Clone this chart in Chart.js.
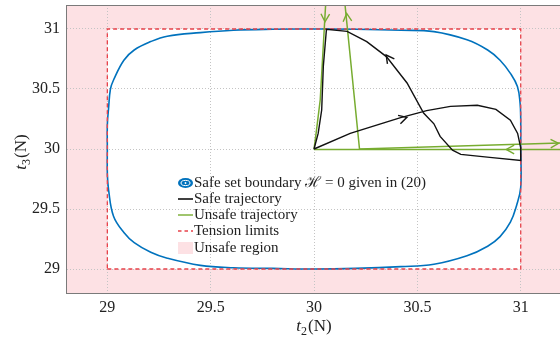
<!DOCTYPE html>
<html>
<head>
<meta charset="utf-8">
<script src="https://cdn.jsdelivr.net/npm/chart.js@4/dist/chart.umd.min.js"></script>
<style>
html,body{margin:0;padding:0;background:#fff;}
canvas{display:block;}
</style>
</head>
<body>
<canvas id="c" width="560" height="341"></canvas>
<script>
// ---- data ----
const tickValues = [29, 29.5, 30, 30.5, 31];
const tickLabels = ['29', '29.5', '30', '30.5', '31'];
const axisRange = [28.8, 31.19, 28.8, 31.2]; // xmin, xmax, ymin, ymax
const limits = [29, 31];

const boundaryX = [30.0, 30.2, 30.42, 30.58, 30.74, 30.84, 30.90, 30.95, 30.984, 30.997, 31.0, 31.0, 31.0, 30.98, 30.95, 30.90, 30.84, 30.74, 30.58, 30.42, 30.2, 30.0, 29.8, 29.61, 29.45, 29.29, 29.21, 29.13, 29.08, 29.03, 29.006, 29.0, 29.0, 29.0, 29.006, 29.015, 29.03, 29.08, 29.13, 29.21, 29.29, 29.45, 29.61, 29.8, 30.0];
const boundaryY = [31.0, 30.998, 30.99, 30.978, 30.91, 30.825, 30.74, 30.63, 30.52, 30.38, 30.24, 30.0, 29.68, 29.53, 29.39, 29.27, 29.19, 29.11, 29.04, 29.02, 29.005, 29.0, 29.005, 29.01, 29.03, 29.09, 29.14, 29.22, 29.305, 29.44, 29.66, 29.8, 30.0, 30.2, 30.34, 30.5, 30.575, 30.74, 30.825, 30.895, 30.94, 30.97, 30.99, 30.998, 31.0];

const safeX = [30.0, 30.175, 30.415, 30.545, 30.66, 30.79, 30.88, 30.95, 30.985, 31.0, 31.0, 30.85, 30.71, 30.67, 30.61, 30.58, 30.53, 30.45, 30.35, 30.255, 30.16, 30.06, 30.045, 30.037, 30.02, 30.0];
const safeY = [30.0, 30.13, 30.26, 30.32, 30.355, 30.365, 30.33, 30.24, 30.13, 30.01, 29.905, 29.93, 29.955, 29.99, 30.105, 30.21, 30.30, 30.55, 30.77, 30.895, 30.98, 30.997, 30.69, 30.325, 30.13, 30.0];

const unsafeAX = [30.0, 30.01, 30.03, 30.056];
const unsafeAY = [30.0, 30.13, 30.41, 31.2];
const unsafeBX = [30.0, 31.2];
const unsafeBY = [29.996, 29.996];
const unsafeCX = [30.15, 30.22, 31.2];
const unsafeCY = [31.2, 30.0, 30.05];

const limitX = [29, 31, 31, 29, 29];
const limitY = [29, 29, 31, 31, 29];

const arrowTipX  = [30.053, 30.158, 31.183, 30.93, 30.449, 30.349];
const arrowTipY  = [31.06, 31.13, 30.047, 29.996, 30.264, 30.783];
const arrowFromX = [30.056, 30.22, 30.22, 31.2, 30.175, 30.45];
const arrowFromY = [31.2, 30.0, 30.0, 29.996, 30.13, 30.55];
const arrowSeries = ['unsafe', 'unsafe', 'unsafe', 'unsafe', 'safe', 'safe'];

const legendLabels = ['Safe set boundary \u210B = 0 given in (20)', 'Safe trajectory', 'Unsafe trajectory', 'Tension limits', 'Unsafe region'];

// ---- styles ----
const COL = {
  blue: '#0072bd', safe: '#111111', unsafe: '#77ac30', limit: '#e8424a',
  pink: 'rgb(253,225,228)', grid: '#c4c4c4', axis: '#7a7a7a', text: '#222222'
};
const serif = '"Liberation Serif", "DejaVu Serif", serif';

const pts = (xs, ys) => xs.map((x, i) => ({x: x, y: ys[i]}));

const regionPlugin = {
  id: 'region',
  beforeDraw(chart) {
    const {ctx, chartArea: a, scales: {x, y}} = chart;
    const l = x.getPixelForValue(limits[0]), r = x.getPixelForValue(limits[1]);
    const t = y.getPixelForValue(limits[1]), b = y.getPixelForValue(limits[0]);
    ctx.save();
    ctx.fillStyle = COL.pink;
    ctx.beginPath();
    ctx.rect(a.left, a.top, a.right - a.left, a.bottom - a.top);
    ctx.rect(l, t, r - l, b - t);
    ctx.fill('evenodd');
    ctx.restore();
  },
  afterDatasetsDraw(chart) {
    const {ctx, chartArea: a, scales: {x, y}} = chart;
    ctx.save();
    ctx.beginPath();
    ctx.rect(a.left, a.top, a.right - a.left, a.bottom - a.top);
    ctx.clip();
    for (let i = 0; i < arrowTipX.length; i++) {
      const tx = x.getPixelForValue(arrowTipX[i]), ty = y.getPixelForValue(arrowTipY[i]);
      const fx = x.getPixelForValue(arrowFromX[i]), fy = y.getPixelForValue(arrowFromY[i]);
      const ang = Math.atan2(ty - fy, tx - fx);
      const len = 9, spread = 0.5;
      ctx.strokeStyle = arrowSeries[i] === 'safe' ? COL.safe : COL.unsafe;
      ctx.lineWidth = 1.4;
      ctx.beginPath();
      ctx.moveTo(tx - len * Math.cos(ang - spread), ty - len * Math.sin(ang - spread));
      ctx.lineTo(tx, ty);
      ctx.lineTo(tx - len * Math.cos(ang + spread), ty - len * Math.sin(ang + spread));
      ctx.stroke();
    }
    ctx.restore();
  },
  afterDraw(chart) {
    const {ctx, chartArea: a} = chart;
    ctx.save();
    // top frame line
    ctx.strokeStyle = COL.axis;
    ctx.lineWidth = 1;
    ctx.beginPath();
    ctx.moveTo(a.left, a.top + 0.5);
    ctx.lineTo(a.right, a.top + 0.5);
    ctx.stroke();

    // axis titles
    ctx.fillStyle = COL.text;
    ctx.textBaseline = 'alphabetic';
    const drawTitle = (sub, cx, cy, rot) => {
      ctx.save();
      ctx.translate(cx, cy);
      ctx.rotate(rot);
      const f1 = 'italic 17px ' + serif, f2 = '12px ' + serif, f3 = '17px ' + serif;
      ctx.font = f1; const w1 = ctx.measureText('t').width;
      ctx.font = f2; const w2 = ctx.measureText(sub).width;
      ctx.font = f3; const w3 = ctx.measureText('(N)').width;
      let x0 = -(w1 + w2 + 1 + w3) / 2;
      ctx.font = f1; ctx.fillText('t', x0, 0); x0 += w1;
      ctx.font = f2; ctx.fillText(sub, x0, 4); x0 += w2 + 1;
      ctx.font = f3; ctx.fillText('(N)', x0, 0);
      ctx.restore();
    };
    drawTitle('2', 314, 331, 0);
    drawTitle('3', 26, 152, -Math.PI / 2);

    // legend
    const lx0 = 178, lx1 = 193, tx = 194;
    const rows = [183, 199, 215, 231, 248];
    ctx.font = '15px ' + serif;
    ctx.textBaseline = 'middle';
    legendLabels.forEach((lab, i) => {
      const yy = rows[i];
      if (i === 0) {
        ctx.fillStyle = COL.blue;
        ctx.beginPath(); ctx.ellipse(185.5, yy, 7.5, 5, 0, 0, Math.PI * 2); ctx.fill();
        ctx.strokeStyle = '#ffffff'; ctx.lineWidth = 1;
        ctx.beginPath(); ctx.ellipse(185.5, yy, 4.5, 2.6, 0, 0, Math.PI * 2); ctx.stroke();
        ctx.fillStyle = '#ffffff';
        ctx.beginPath(); ctx.arc(185.5, yy, 0.9, 0, Math.PI * 2); ctx.fill();
      } else if (i === 1 || i === 2 || i === 3) {
        ctx.strokeStyle = i === 1 ? COL.safe : (i === 2 ? COL.unsafe : COL.limit);
        ctx.lineWidth = i === 1 ? 1.6 : 1.4;
        ctx.setLineDash(i === 3 ? [3.5, 3] : []);
        ctx.beginPath(); ctx.moveTo(lx0, yy); ctx.lineTo(lx1, yy); ctx.stroke();
        ctx.setLineDash([]);
      } else {
        ctx.fillStyle = COL.pink;
        ctx.fillRect(lx0, yy - 6, lx1 - lx0, 12);
      }
      ctx.fillStyle = COL.text;
      ctx.fillText(lab, tx, yy + 0.5);
    });
    ctx.restore();
  }
};

const lineDs = (label, data, color, width, extra) => Object.assign({
  label: label, data: data, showLine: true, borderColor: color, backgroundColor: color,
  borderWidth: width, pointRadius: 0, tension: 0, fill: false
}, extra || {});

new Chart(document.getElementById('c'), {
  type: 'scatter',
  data: {
    datasets: [
      lineDs('Safe trajectory', pts(safeX, safeY), COL.safe, 1.4),
      lineDs('Unsafe A', pts(unsafeAX, unsafeAY), COL.unsafe, 1.5),
      lineDs('Unsafe B', pts(unsafeBX, unsafeBY), COL.unsafe, 1.5),
      lineDs('Unsafe C', pts(unsafeCX, unsafeCY), COL.unsafe, 1.5),
      lineDs('Tension limits', pts(limitX, limitY), COL.limit, 1.3, {borderDash: [4, 3]}),
      lineDs('Safe set boundary', pts(boundaryX, boundaryY), COL.blue, 1.6, {tension: 0.4})
    ]
  },
  options: {
    responsive: false,
    animation: false,
    devicePixelRatio: 1,
    layout: {padding: {top: 5, left: 0, right: 0, bottom: 0}},
    plugins: {legend: {display: false}, tooltip: {enabled: false}},
    scales: {
      x: {
        type: 'linear', min: axisRange[0], max: axisRange[1],
        afterBuildTicks: s => { s.ticks = tickValues.map(v => ({value: v})); },
        afterFit: s => { s.height = 48; s.paddingLeft = 0; s.paddingRight = 0; },
        ticks: {
          callback: (v) => tickLabels[tickValues.indexOf(v)] ?? '',
          font: {family: serif, size: 16}, color: COL.text, padding: 5, maxRotation: 0, autoSkip: false
        },
        grid: {color: COL.grid, drawTicks: false, lineWidth: 1},
        border: {color: COL.axis, width: 1, dash: [1, 2]}
      },
      y: {
        type: 'linear', min: axisRange[2], max: axisRange[3],
        afterBuildTicks: s => { s.ticks = tickValues.map(v => ({value: v})); },
        afterFit: s => { s.width = 66; s.paddingTop = 0; s.paddingBottom = 0; },
        ticks: {
          callback: (v) => tickLabels[tickValues.indexOf(v)] ?? '',
          font: {family: serif, size: 16}, color: COL.text, padding: 6, autoSkip: false
        },
        grid: {color: COL.grid, drawTicks: false, lineWidth: 1},
        border: {color: COL.axis, width: 1, dash: [1, 2]}
      }
    }
  },
  plugins: [regionPlugin]
});
</script>
</body>
</html>
